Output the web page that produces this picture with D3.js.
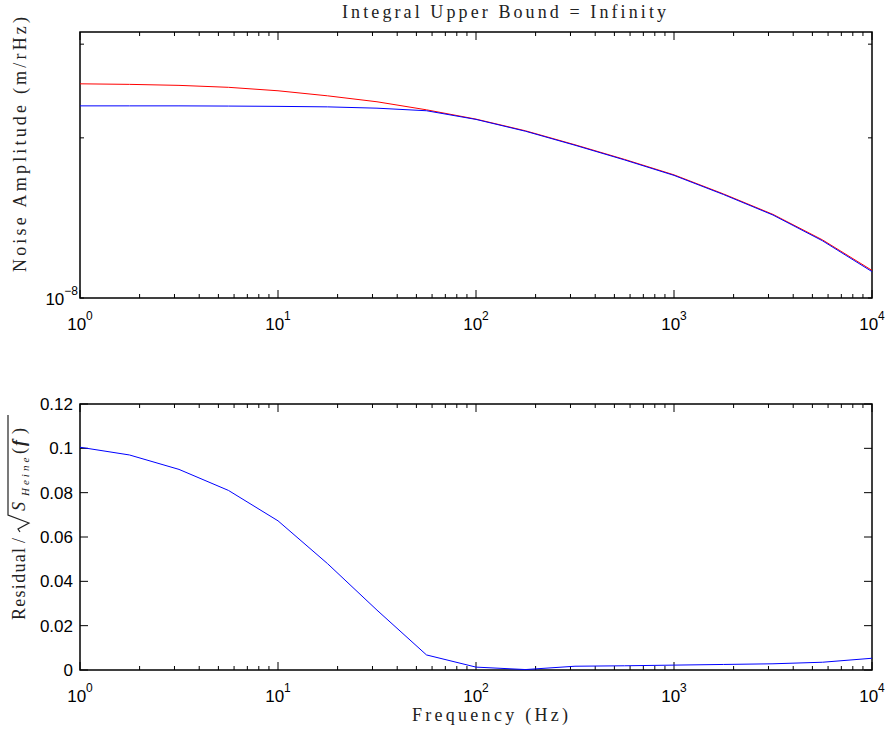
<!DOCTYPE html>
<html>
<head>
<meta charset="utf-8">
<script src="https://cdn.jsdelivr.net/npm/d3@7.9.0/dist/d3.min.js"></script>
<style>
  body { margin: 0; background: #fff; }
  svg { display: block; }
  .tick-label { font-family: "Liberation Sans", Arial, sans-serif; font-size: 17px; fill: #000; }
  .tex { font-family: "Liberation Serif", "DejaVu Serif", serif; font-size: 18px; fill: #222; }
</style>
</head>
<body>
<svg id="chart" width="887" height="729"></svg>
<script>
// sample frequencies (Hz), 4 per decade
const freqs = [1, 1.778, 3.162, 5.623, 10, 17.78, 31.62, 56.23, 100, 177.8, 316.2, 562.3, 1000, 1778, 3162, 5623, 10000];
// noise amplitude, units of 1e-8 m/rHz
const redAmp  = [2.527, 2.521, 2.510, 2.489, 2.452, 2.399, 2.338, 2.258, 2.169, 2.062, 1.941, 1.822, 1.704, 1.569, 1.436, 1.286, 1.127];
const blueAmp = [2.297, 2.297, 2.297, 2.295, 2.292, 2.287, 2.274, 2.249, 2.166, 2.058, 1.937, 1.818, 1.700, 1.565, 1.432, 1.281, 1.121];
// residual
const residual = [0.1005, 0.097, 0.0905, 0.081, 0.0673, 0.048, 0.027, 0.0068, 0.0013, 0.0002, 0.0017, 0.0019, 0.0022, 0.0025, 0.0028, 0.0035, 0.0053];

const xDecades = [0, 1, 2, 3, 4];
const ampTicks = [1e-8, 2e-8, 3e-8];
const resTicks = [0, 0.02, 0.04, 0.06, 0.08, 0.1, 0.12];

const svg = d3.select("#chart");
const left = 80, right = 872;
const top1 = 32, bot1 = 298;
const top2 = 404, bot2 = 670;

const x = d3.scaleLog().domain([1, 1e4]).range([left, right]);
const y1 = d3.scaleLog().domain([1e-8, Math.pow(10, -7.5)]).range([bot1, top1]);
const y2 = d3.scaleLinear().domain([0, 0.12]).range([bot2, top2]);

// minor x ticks 2..9 per decade
const minorX = [];
for (let d = 0; d < 4; d++) for (let m = 2; m < 10; m++) minorX.push(m * Math.pow(10, d));

function frame(top, bot, yTicks, yScale, yLen) {
  const g = svg.append("g");
  // x ticks on bottom and top edges
  xDecades.forEach(p => {
    const xx = x(Math.pow(10, p));
    g.append("line").attr("x1", xx).attr("x2", xx).attr("y1", bot).attr("y2", bot - 8).attr("stroke", "#000");
    g.append("line").attr("x1", xx).attr("x2", xx).attr("y1", top).attr("y2", top + 8).attr("stroke", "#000");
  });
  minorX.forEach(v => {
    const xx = x(v);
    g.append("line").attr("x1", xx).attr("x2", xx).attr("y1", bot).attr("y2", bot - 4).attr("stroke", "#000");
    g.append("line").attr("x1", xx).attr("x2", xx).attr("y1", top).attr("y2", top + 4).attr("stroke", "#000");
  });
  yTicks.forEach(v => {
    const yy = yScale(v);
    g.append("line").attr("x1", left).attr("x2", left + yLen).attr("y1", yy).attr("y2", yy).attr("stroke", "#000");
    g.append("line").attr("x1", right).attr("x2", right - yLen).attr("y1", yy).attr("y2", yy).attr("stroke", "#000");
  });
  g.append("rect").attr("x", left).attr("y", top).attr("width", right - left).attr("height", bot - top)
    .attr("fill", "none").attr("stroke", "#000").attr("stroke-width", 1.5);
  // decade labels
  xDecades.forEach(p => {
    const t = g.append("text").attr("class", "tick-label").attr("x", x(Math.pow(10, p))).attr("y", bot + 32)
      .attr("text-anchor", "middle");
    t.append("tspan").text("10");
    t.append("tspan").attr("dy", -10).attr("font-size", 12).text(p);
  });
}

// ---------- top panel ----------
frame(top1, bot1, ampTicks, y1, 4);
const t8 = svg.append("text").attr("class", "tick-label").attr("x", 78).attr("y", y1(1e-8) + 7).attr("text-anchor", "end");
t8.append("tspan").text("10");
t8.append("tspan").attr("dy", -10).attr("font-size", 12).text("\u22128");

const lineAmp = d3.line().x((d, i) => x(freqs[i])).y(d => y1(d * 1e-8));
svg.append("path").datum(redAmp).attr("d", lineAmp).attr("fill", "none").attr("stroke", "#ff0000").attr("stroke-width", 1);
svg.append("path").datum(blueAmp).attr("d", lineAmp).attr("fill", "none").attr("stroke", "#0000ff").attr("stroke-width", 1);

// ---------- bottom panel ----------
frame(top2, bot2, resTicks, y2, 8);
resTicks.forEach(v => {
  svg.append("text").attr("class", "tick-label").attr("x", 73).attr("y", y2(v) + 6)
    .attr("text-anchor", "end").text(v === 0 ? "0" : d3.format("")(+v.toFixed(2)));
});
const lineRes = d3.line().x((d, i) => x(freqs[i])).y(d => y2(d));
svg.append("path").datum(residual).attr("d", lineRes).attr("fill", "none").attr("stroke", "#0000ff").attr("stroke-width", 1);

// ---------- TeX-ish labels ----------
function spaced(parent, str, w) {
  return parent.append("text").attr("class", "tex").attr("textLength", w).attr("lengthAdjust", "spacing").text(str);
}
spaced(svg, "Integral Upper Bound = Infinity", 324).attr("x", 342).attr("y", 18);
spaced(svg, "Frequency (Hz)", 156).attr("x", 412).attr("y", 721);
const gN = svg.append("g").attr("transform", "translate(26,272) rotate(-90)");
spaced(gN, "Noise Amplitude (m/rHz)", 255).attr("x", 0).attr("y", 0);

const gR = svg.append("g").attr("transform", "translate(25,620) rotate(-90)");
spaced(gR, "Residual", 72).attr("x", 0).attr("y", 0);
gR.append("text").attr("class", "tex").attr("x", 77).attr("y", 0).text("/");
// radical sign with overbar
gR.append("path").attr("d", "M88,-5 L91,-7 L97,4 L105,-17 L205,-17")
  .attr("fill", "none").attr("stroke", "#222").attr("stroke-width", 1.2);
gR.append("text").attr("class", "tex").attr("x", 109).attr("y", 0).style("font-style", "italic").text("S");
gR.append("text").attr("class", "tex").attr("x", 124).attr("y", 4).style("font-size", "11px")
  .style("font-style", "italic").style("letter-spacing", "3px").text("Heine");
gR.append("text").attr("class", "tex").attr("x", 166).attr("y", 0).text("(");
gR.append("text").attr("class", "tex").attr("x", 174).attr("y", 0).style("font-style", "italic").style("font-weight", "bold").text("f");
gR.append("text").attr("class", "tex").attr("x", 186).attr("y", 0).text(")");
</script>
</body>
</html>
